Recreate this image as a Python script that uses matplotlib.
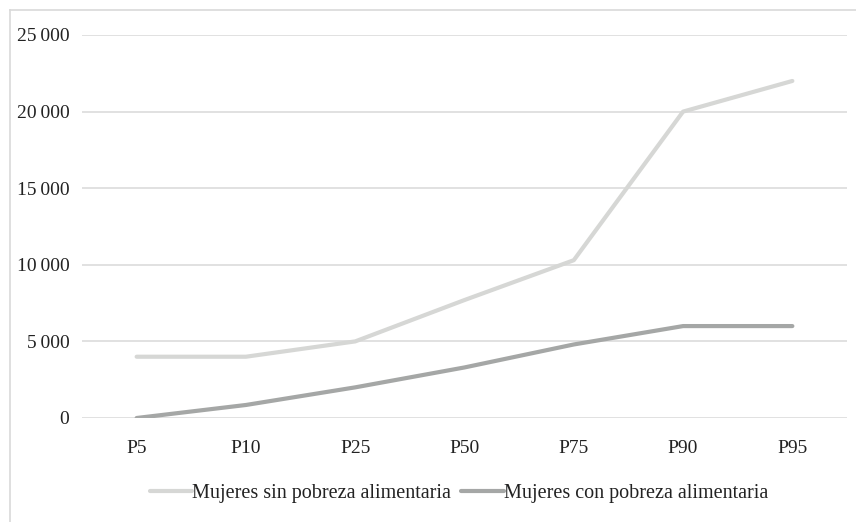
import matplotlib
matplotlib.use("Agg")
import matplotlib.pyplot as plt
from matplotlib.lines import Line2D
from matplotlib.ticker import FuncFormatter

categories = ["P5", "P10", "P25", "P50", "P75", "P90", "P95"]
sin_pobreza = [4000, 4000, 5000, 7700, 10300, 20000, 22000]
con_pobreza = [0, 850, 2000, 3300, 4800, 6000, 6000]
y_ticks = [0, 5000, 10000, 15000, 20000, 25000]

plt.rcParams['font.family'] = ['Liberation Serif', 'DejaVu Serif']


def fmt(v, p):
    return f"{int(v):,}".replace(",", "\u2009")


W, H = 856, 522
fig = plt.figure(figsize=(W / 100, H / 100), dpi=100)
ax = fig.add_axes([82 / W, 1 - 418 / H, (847 - 82) / W, (418 - 35) / H])

x = list(range(len(categories)))
ax.plot(x, sin_pobreza, color="#d6d7d5", lw=3.0, solid_capstyle="round",
        label="Mujeres sin pobreza alimentaria", zorder=3)
ax.plot(x, con_pobreza, color="#a5a7a6", lw=3.0, solid_capstyle="round",
        label="Mujeres con pobreza alimentaria", zorder=4)

ax.set_xlim(-0.5, len(categories) - 0.5)
ax.set_ylim(0, 25000)
ax.set_yticks(y_ticks)
ax.yaxis.set_major_formatter(FuncFormatter(fmt))
ax.set_xticks(x)
ax.set_xticklabels(categories)
ax.grid(axis="y", color="#d9d9d9", lw=1.1)
ax.set_axisbelow(True)
for s in ax.spines.values():
    s.set_visible(False)
ax.tick_params(axis="y", length=0, labelsize=14, colors="#222222", pad=9)
ax.tick_params(axis="x", length=0, labelsize=14, colors="#222222", pad=16)

leg = fig.legend(loc="center", bbox_to_anchor=(459 / W, 1 - 493 / H), ncol=2,
                 frameon=False, fontsize=14.5, handlelength=2.1, handletextpad=0.0,
                 columnspacing=0.5)
for t in leg.get_texts():
    t.set_color("#222222")

fig.add_artist(Line2D([10 / W, 1], [1 - 10 / H, 1 - 10 / H], color="#d9d9d9", lw=1.2,
                      transform=fig.transFigure))
fig.add_artist(Line2D([10 / W, 10 / W], [0, 1 - 10 / H], color="#d9d9d9", lw=1.2,
                      transform=fig.transFigure))

fig.savefig("out.png", dpi=100, facecolor="white")
